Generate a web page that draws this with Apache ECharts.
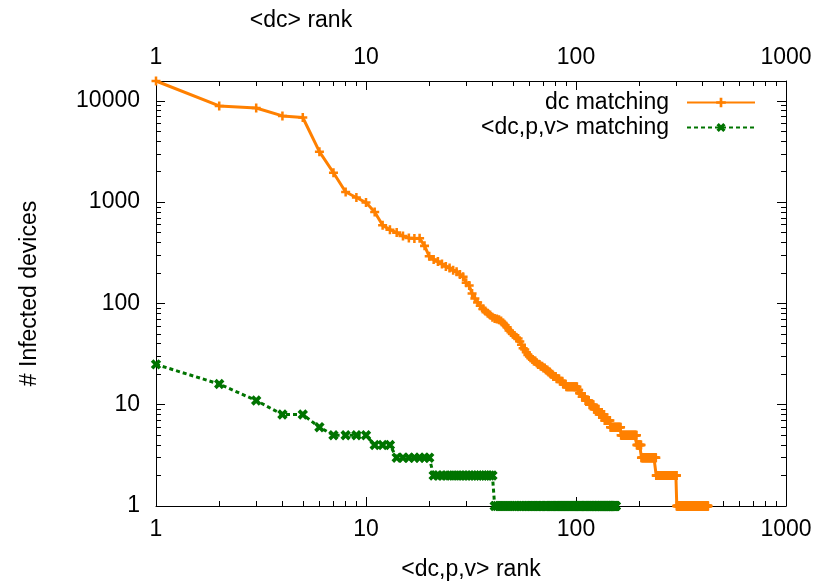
<!DOCTYPE html>
<html><head><meta charset="utf-8">
<script src="https://cdn.jsdelivr.net/npm/echarts@6/dist/echarts.min.js"></script>
<style>html,body{margin:0;padding:0;background:#fff}#c{width:823px;height:584px}</style>
</head><body><div id="c"></div>
<script>
// ---- data ----
// "dc matching": explicit values for ranks 1..89
const dcHead = [15700, 8900, 8500, 7100, 6850, 3150, 1950, 1260, 1110, 990,
  800, 590, 535, 500, 462, 442, 438, 440, 370, 292,
  272, 259, 245, 232, 224, 212, 205, 193, 183, 160,
  150, 125, 112, 102, 95, 88, 84, 80, 77, 73,
  71, 70, 69, 67, 64, 61, 58, 54, 52, 50,
  48, 46, 45, 42, 39, 36, 35, 33, 31, 30,
  29, 28, 27, 27, 26, 25, 25, 24, 24, 23,
  23, 22, 22, 21, 21, 20, 20, 19, 19, 19,
  18, 18, 18, 17, 17, 17, 16, 16, 16];
// plateaus in the tail: value and last rank holding it
const dcStepValues   = [15, 14, 13, 12, 11, 10, 9, 8, 7, 6, 5, 4, 3, 2, 1];
const dcStepLastRank = [101, 103, 106, 110, 115, 121, 128, 136, 145, 163, 194, 204, 240, 301, 425];

// "<dc,p,v> matching"
const pvHead = [25, 16, 11, 8, 8, 6];
const pvStepValues   = [5, 4, 3, 2, 1];
const pvStepLastRank = [10, 13, 20, 40, 155];

const xTickLabels = [1, 10, 100, 1000];
const yTickLabels = [1, 10, 100, 1000, 10000];
const xMinorTicks = [2,3,4,5,6,7,8,9,20,30,40,50,60,70,80,90,200,300,400,500,600,700,800,900];
const yMinorTicks = [2,3,4,5,6,7,8,9,20,30,40,50,60,70,80,90,200,300,400,500,600,700,800,900,2000,3000,4000,5000,6000,7000,8000,9000];

const seriesNames = ['dc matching', '<dc,p,v> matching'];

// ---- build ----
function expand(head, vals, ends) {
  const out = head.map((v, i) => [i + 1, v]);
  let r = head.length + 1;
  vals.forEach((v, k) => { for (; r <= ends[k]; r++) out.push([r, v]); });
  return out;
}
const dcData = expand(dcHead, dcStepValues, dcStepLastRank);
const pvData = expand(pvHead, pvStepValues, pvStepLastRank);
const yMax = Math.max.apply(null, dcHead);

const FONT = 'Liberation Sans, Arial, sans-serif';
const FS = 23;
const ORANGE = '#ff8000';
const GREEN = '#007400';
const PLUS = 'path://M0,3.6H10V6.4H0Z M3.6,0H6.4V10H3.6Z';
const PLUS_T = 'path://M0,3.3H10V6.7H0Z M3.3,0H6.7V10H3.3Z';

function xAx(pos, major, name, gap, pad) {
  const a = {
    type: 'log', logBase: 10, min: 1, max: 1000, position: pos,
    splitLine: { show: false },
    axisLine: { show: major, onZero: false, lineStyle: { color: '#000', width: 1 } },
    axisTick: { show: true, inside: true, length: major ? 9 : 5,
      customValues: major ? xTickLabels : xMinorTicks, lineStyle: { color: '#000', width: 1 } },
    axisLabel: { show: major, customValues: xTickLabels, fontSize: FS, fontFamily: FONT, color: '#000',
      margin: 12, formatter: v => String(v) }
  };
  if (name) {
    a.name = name; a.nameLocation = 'middle'; a.nameGap = gap;
    a.nameTextStyle = { fontSize: FS, fontFamily: FONT, color: '#000', padding: pad || 0 };
  }
  return a;
}
function yAx(pos, major, labels, name) {
  const a = {
    type: 'log', logBase: 10, min: 1, max: yMax, position: pos,
    splitLine: { show: false },
    axisLine: { show: major, onZero: false, lineStyle: { color: '#000', width: 1 } },
    axisTick: { show: true, inside: true, length: major ? 9 : 5,
      customValues: major ? yTickLabels : yMinorTicks, lineStyle: { color: '#000', width: 1 } },
    axisLabel: { show: labels, customValues: yTickLabels, fontSize: FS, fontFamily: FONT, color: '#000',
      margin: 16, formatter: v => String(v) }
  };
  if (name) {
    a.name = name; a.nameLocation = 'middle'; a.nameGap = 115;
    a.nameTextStyle = { fontSize: FS, fontFamily: FONT, color: '#000' };
  }
  return a;
}

const legendBase = {
  orient: 'vertical', align: 'right', right: 67, padding: 0,
  itemWidth: 68, itemHeight: 12,
  textStyle: { fontSize: FS, fontFamily: FONT, color: '#000', padding: [0, 13, 0, 0] }
};

const chart = echarts.init(document.getElementById('c'), null, { renderer: 'canvas' });
chart.setOption({
  animation: false,
  backgroundColor: '#fff',
  grid: { left: 156, right: 37, top: 81, bottom: 78, containLabel: false, outerBoundsMode: 'none' },
  legend: [
    Object.assign({}, legendBase, { data: [seriesNames[0]], top: 91 }),
    Object.assign({}, legendBase, { data: [seriesNames[1]], top: 116 })
  ],
  xAxis: [
    xAx('bottom', true, '<dc,p,v> rank', 52),
    xAx('bottom', false),
    xAx('top', true, '<dc> rank', 49, [0, 340, 0, 0]),
    xAx('top', false)
  ],
  yAxis: [
    yAx('left', true, true, '# Infected devices'),
    yAx('left', false, false),
    yAx('right', true, false),
    yAx('right', false, false)
  ],
  series: [
    { type: 'line', name: seriesNames[0], xAxisIndex: 2, yAxisIndex: 0, data: dcData,
      symbol: PLUS, symbolSize: 9, clip: false, z: 3,
      lineStyle: { color: ORANGE, width: 3 }, itemStyle: { color: ORANGE } },
    { type: 'line', name: seriesNames[1], xAxisIndex: 0, yAxisIndex: 0, data: pvData,
      symbol: PLUS_T, symbolRotate: 45, symbolSize: 11, clip: false, z: 2,
      lineStyle: { color: GREEN, width: 3, type: [4, 3] }, itemStyle: { color: GREEN } }
  ]
});
</script>
</body></html>
